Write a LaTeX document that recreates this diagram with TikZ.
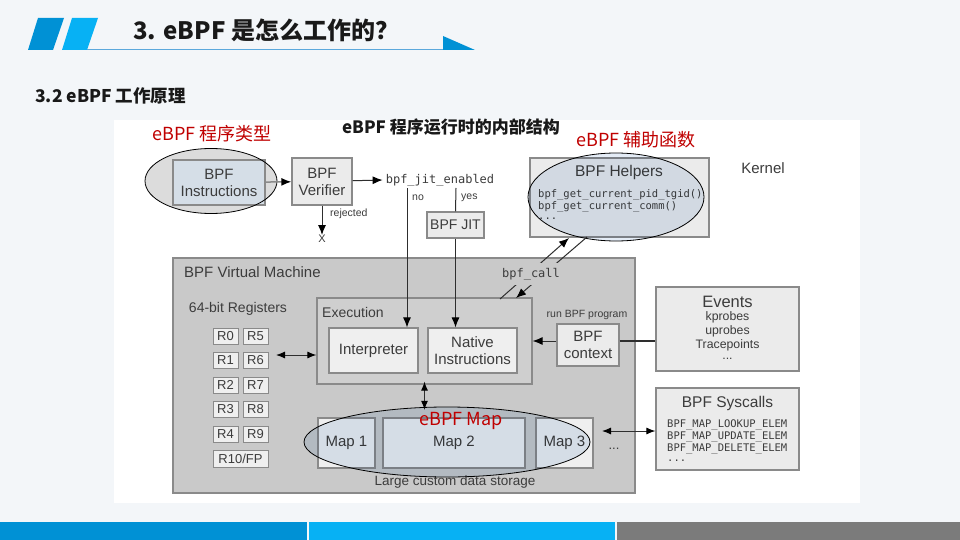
\documentclass[tikz,border=0pt]{standalone}
\usepackage{fontspec}
\setmainfont{Liberation Sans}
\setmonofont{DejaVu Sans Mono}
\newfontfamily\cjk{Noto Sans CJK SC}
\usetikzlibrary{arrows.meta,shapes.geometric}
\definecolor{bg}{HTML}{F3F6F9}
\definecolor{blueA}{HTML}{0091D5}
\definecolor{blueB}{HTML}{07B1F4}
\definecolor{headline}{HTML}{5BA8DC}
\definecolor{greybar}{HTML}{7B7B7B}
\definecolor{boxfill}{HTML}{EBEBEB}
\definecolor{boxline}{HTML}{8A8A8A}
\definecolor{vmfill}{HTML}{C9C9C9}
\definecolor{execfill}{HTML}{CFCFCF}
\definecolor{innerfill}{HTML}{EFEFEF}
\definecolor{instrfill}{HTML}{D5DEE7}
\definecolor{ellgray}{HTML}{DCDCDC}
\definecolor{ellblue}{HTML}{E4ECF6}
\definecolor{redlab}{HTML}{C00000}
\definecolor{txt}{HTML}{3C3C3C}
\definecolor{lineclr}{HTML}{2E2E2E}
\begin{document}
\begin{tikzpicture}[x=1pt,y=-1pt,
  every node/.style={inner sep=0pt,text=txt},
  box/.style={draw=boxline,line width=1.2pt,fill=boxfill,align=center,font=\fontsize{15}{17}\selectfont},
  inner/.style={box,fill=innerfill},
  reg/.style={draw=boxline,line width=1pt,fill=innerfill,minimum width=25pt,minimum height=16pt,font=\fontsize{13}{14}\selectfont},
  mapbox/.style={box,fill=innerfill,minimum width=57pt,minimum height=50pt},
  conn/.style={draw=lineclr,line width=1pt},
  arr/.style={conn,-{Latex[length=10pt,width=8pt,color=black]}},
  darr/.style={conn,{Latex[length=9pt,width=7pt,color=black]}-{Latex[length=9pt,width=7pt,color=black]}},
  mono/.style={font=\ttfamily\fontsize{10.5}{12}\selectfont,text=txt},
  small/.style={font=\fontsize{10.5}{12}\selectfont},
  evtxt/.style={font=\fontsize{12.3}{13}\selectfont},
  redlabel/.style={font=\cjk\fontsize{18}{20}\selectfont,text=redlab},
  ellline/.style={draw=black,line width=0.8pt}
]
\useasboundingbox (0,0) rectangle (960,540);
\fill[bg] (0,0) rectangle (960,540);
% header
\fill[blueA] (38,18) -- (64,18) -- (53,50) -- (28,50) -- cycle;
\fill[blueB] (72,18) -- (98,18) -- (87,50) -- (62,50) -- cycle;
\draw[headline,line width=1pt] (87,49.5) -- (445,49.5);
\fill[blueA] (443,36) -- (443,50) -- (475,50) -- cycle;
\node[anchor=west,font=\cjk\bfseries\fontsize{24}{28}\selectfont,text=black!90] (title) at (133,30) {3. eBPF 是怎么工作的？};
\node[anchor=west,font=\cjk\bfseries\fontsize{17.5}{20}\selectfont,text=black!90] (subtitle) at (35,96) {3.2 eBPF 工作原理};
% bottom bars
\fill[blueA] (0,522) rectangle (307,540);
\fill[blueB] (309,522) rectangle (615,540);
\fill[greybar] (617,522) rectangle (960,540);
% diagram area
\fill[white] (114,120) rectangle (860,503);
\node[font=\cjk\bfseries\fontsize{17}{20}\selectfont,text=black!90] (caption) at (451,127) {eBPF 程序运行时的内部结构};

% top row
\node[ellipse,fill=ellgray,minimum width=132pt,minimum height=65pt] (ell1) at (211,181) {};
\node[box,fill=instrfill,minimum width=92pt,minimum height=45pt] (instr) at (219,182.5) {BPF\\Instructions};
\draw[ellline] (ell1.center) ellipse [x radius=66,y radius=32.5];
\node[redlabel] (lab1) at (212,134) {eBPF 程序类型};

\node[box,minimum width=60pt,minimum height=47pt] (verif) at (322,181.5) {BPF\\Verifier};
\draw[arr,draw=boxline,line width=1.5pt] (instr) -- (verif);
\node[font=\ttfamily\fontsize{12}{14}\selectfont] (jit) at (440,180) {bpf\_jit\_enabled};
\draw[arr] (verif) -- ([xshift=-3pt]jit.west);
\node[font=\fontsize{11}{12}\selectfont] (rejx) at (322,239) {X};
\draw[arr] (verif) -- (rejx);
\node[small,anchor=west] (rejl) at (330,214) {rejected};
\coordinate (jitno) at (407,188);
\coordinate (jityes) at (456,188);
\node[small,anchor=west] (nolab) at (412,198) {no};
\node[small,anchor=west] (yeslab) at (461,198) {yes};
\node[box,minimum width=57pt,minimum height=26pt,font=\fontsize{14}{16}\selectfont] (bpfjit) at (455.5,225) {BPF JIT};

\node[box,minimum width=179pt,minimum height=79pt] (helpers) at (619.5,197.5) {};
\node[font=\fontsize{15.5}{17}\selectfont] (helpt) at (619,172) {BPF Helpers};
\node[mono,anchor=west] (h1) at (538,195) {bpf\_get\_current\_pid\_tgid()};
\node[mono,anchor=west] (h2) at (538,207) {bpf\_get\_current\_comm()};
\node[mono,anchor=west] (h3) at (538,219) {...};
\node[ellipse,fill=ellblue,blend mode=multiply,minimum width=176pt,minimum height=88pt] (ell2) at (616,197) {};
\draw[ellline] (ell2.center) ellipse [x radius=88,y radius=44];
\node[redlabel] (lab2) at (636,140) {eBPF 辅助函数};
\node[font=\fontsize{15}{17}\selectfont] (kernel) at (763,168) {Kernel};

% VM
\node[box,fill=vmfill,minimum width=462pt,minimum height=235pt] (vm) at (404,375.5) {};
\node[anchor=west,font=\fontsize{15}{17}\selectfont] (vmlab) at (184,272) {BPF Virtual Machine};
\node[box,fill=execfill,minimum width=215pt,minimum height=86pt] (exec) at (424.5,341) {};
\node[anchor=west,font=\fontsize{14}{16}\selectfont] (execlab) at (322,312) {Execution};
\node[inner,minimum width=89pt,minimum height=45pt] (interp) at (373.5,350.5) {Interpreter};
\node[inner,minimum width=89pt,minimum height=45pt] (native) at (472.5,350.5) {Native\\Instructions};
\draw[arr] (jitno) -- (jitno |- interp.north);
\draw[conn] (jityes) -- (bpfjit.north);
\draw[arr] (bpfjit.south) -- (bpfjit.south |- native.north);

% bpf_call
\coordinate (ca1) at (500,299);
\coordinate (ca2) at (569,238);
\coordinate (cb1) at (587,237);
\coordinate (cb2) at (516,298);
\draw[arr] (ca1) -- (ca2);
\draw[arr] (cb1) -- (cb2);
\node[fill=vmfill,minimum height=22pt,inner xsep=2pt,font=\ttfamily\fontsize{12}{14}\selectfont] (bpfcall) at (531,274) {bpf\_call};

% registers
\node[font=\fontsize{14}{16}\selectfont] (reglab) at (238,309) {64-bit Registers};
\node[reg] (r0) at (225.5,336) {R0};
\node[reg] (r5) at (255.5,336) {R5};
\node[reg] (r1) at (225.5,360.5) {R1};
\node[reg] (r6) at (255.5,360.5) {R6};
\node[reg] (r2) at (225.5,385) {R2};
\node[reg] (r7) at (255.5,385) {R7};
\node[reg] (r3) at (225.5,409.5) {R3};
\node[reg] (r8) at (255.5,409.5) {R8};
\node[reg] (r4) at (225.5,434) {R4};
\node[reg] (r9) at (255.5,434) {R9};
\node[reg,minimum width=55pt,minimum height=17pt] (r10) at (240.5,459) {R10/FP};
\coordinate (regs) at (276,355);
\draw[darr] (regs) -- (regs -| exec.west);

% context & events
\node[box,minimum width=62pt,minimum height=42pt] (ctx) at (588,345) {BPF\\context};
\node[small] (runlab) at (587,315) {run BPF program};
\draw[arr] (ctx.west |- 341,341) -- (exec.east |- 341,341);
\node[box,minimum width=143pt,minimum height=84pt] (events) at (727.5,329) {};
\node[font=\fontsize{16.5}{18}\selectfont] (ev0) at (727.5,302) {Events};
\node[evtxt] (ev1) at (727.5,317) {kprobes};
\node[evtxt] (ev2) at (727.5,331) {uprobes};
\node[evtxt] (ev3) at (727.5,345) {Tracepoints};
\node[evtxt] (ev4) at (727.5,359) {...};
\draw[conn,line width=2.5pt] (ctx.east |- 341,341) -- (events.west |- 341,341);

% maps
\node[mapbox] (map1) at (346.5,443) {Map 1};
\node[mapbox,minimum width=142pt] (map2) at (454,443) {Map 2};
\node[mapbox] (map3) at (564.5,443) {Map 3};
\node[font=\fontsize{13.5}{15}\selectfont] (storlab) at (455,482) {Large custom data storage};
\node[font=\fontsize{13}{15}\selectfont] (mdots) at (614,449) {...};
\node[ellipse,fill=ellblue,blend mode=multiply,minimum width=286pt,minimum height=70pt] (ell3) at (447,442) {};
\draw[ellline] (ell3.center) ellipse [x radius=143,y radius=35];
\draw[darr] ([yshift=3pt]exec.south) -- ([yshift=-3pt]exec.south |- ell3.north);
\node[redlabel] (lab3) at (461,421) {eBPF Map};

% syscalls
\node[box,minimum width=143pt,minimum height=82pt] (sys) at (727.5,429) {};
\node[font=\fontsize{15.5}{17}\selectfont] (syst) at (727.5,403) {BPF Syscalls};
\node[mono,anchor=west] (s1) at (667,425) {BPF\_MAP\_LOOKUP\_ELEM};
\node[mono,anchor=west] (s2) at (667,437) {BPF\_MAP\_UPDATE\_ELEM};
\node[mono,anchor=west] (s3) at (667,449) {BPF\_MAP\_DELETE\_ELEM};
\node[mono,anchor=west] (s4) at (667,461) {...};
\coordinate (storeR) at (602,431);
\draw[darr] (storeR) -- (storeR -| sys.west);
\end{tikzpicture}
\end{document}
